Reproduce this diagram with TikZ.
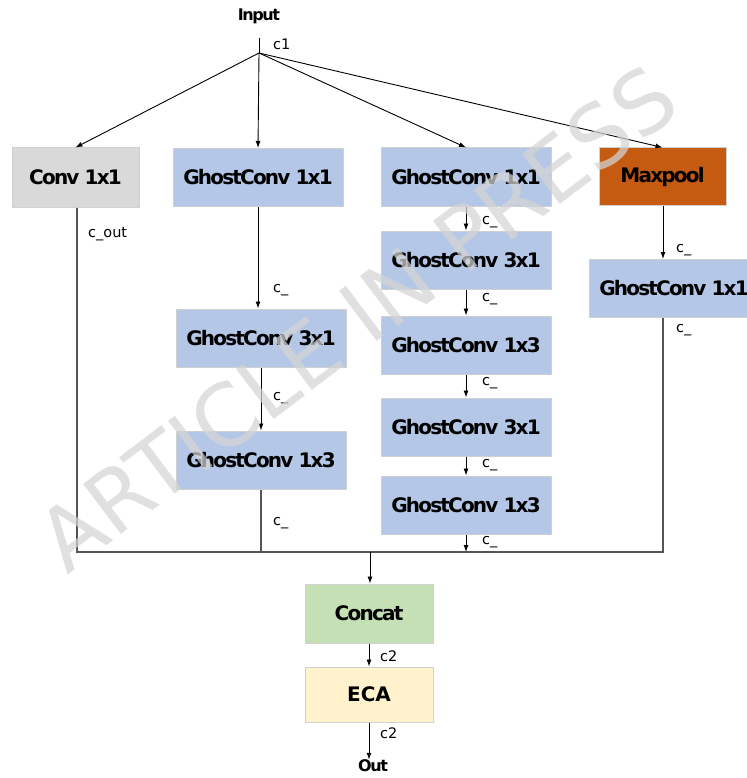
\documentclass[tikz,border=0pt]{standalone}
\usepackage{fontspec}
\setmainfont{DejaVu Sans}
\newfontfamily\boxfont[LetterSpace=-9]{DejaVu Sans}
\newfontfamily\markfont{DejaVu Sans}
\usetikzlibrary{arrows.meta}
\definecolor{convgray}{HTML}{D9D9D9}
\definecolor{ghostblue}{HTML}{B4C7E7}
\definecolor{poolorange}{HTML}{C55A11}
\definecolor{catgreen}{HTML}{C5E0B4}
\definecolor{ecayellow}{HTML}{FFF2CC}
\definecolor{boxedge}{HTML}{D0D0D0}
\definecolor{busgray}{HTML}{555555}
\definecolor{wmgray}{HTML}{D4D4D4}
\tikzset{
  blk/.style={draw=boxedge, line width=1pt, inner sep=0pt,
    font=\boxfont\bfseries\fontsize{20}{22}\selectfont},
  convblk/.style={blk, fill=convgray, minimum width=127pt, minimum height=59pt},
  ghostblk/.style={blk, fill=ghostblue, minimum width=170pt, minimum height=58pt},
  poolblk/.style={blk, fill=poolorange, minimum width=127pt, minimum height=57pt},
  catblk/.style={blk, fill=catgreen, minimum width=128pt, minimum height=59pt},
  ecablk/.style={blk, fill=ecayellow, minimum width=128pt, minimum height=55pt,
    font=\bfseries\fontsize{20}{22}\selectfont},
  endtxt/.style={font=\boxfont\bfseries\fontsize{16}{18}\selectfont, inner sep=0pt},
  lbl/.style={anchor=west, inner sep=0pt, font=\fontsize{14.5}{16}\selectfont},
  arr/.style={-{Latex[length=7pt,width=5pt]}, line width=0.9pt, draw=black},
  wire/.style={line width=0.9pt, draw=black},
  bus/.style={line width=1.3pt, draw=busgray},
}
\begin{document}
\begin{tikzpicture}[x=1pt, y=-1pt]
\useasboundingbox (0,0) rectangle (746,778);

% input and fan-out point
\node[endtxt] (in) at (259,16) {Input};
\coordinate (intop) at (259,38);
\coordinate (fan) at (259,53);

% first row
\node[convblk]  (conv) at (75.5,177.5) {Conv 1x1};
\node[ghostblk] (g1)   at (258,177.5) {GhostConv 1x1};
\node[ghostblk] (h1)   at (466,177)   {GhostConv 1x1};
\node[poolblk]  (mp)   at (662.5,176.5) {Maxpool};

% second branch
\node[ghostblk] (g2) at (261,338) {GhostConv 3x1};
\node[ghostblk] (g3) at (261,460) {GhostConv 1x3};

% third branch
\node[ghostblk] (h2) at (466,260) {GhostConv 3x1};
\node[ghostblk] (h3) at (466,345) {GhostConv 1x3};
\node[ghostblk] (h4) at (466,427) {GhostConv 3x1};
\node[ghostblk] (h5) at (466,505) {GhostConv 1x3};

% pooling branch
\node[ghostblk] (m2) at (674,288.5) {GhostConv 1x1};

% merge
\coordinate (busL) at (77,552);
\coordinate (busR) at (663,552);
\coordinate (busC) at (370,552);
\node[catblk] (cat) at (369,613.5) {Concat};
\node[ecablk] (eca) at (369,694.5) {ECA};
\node[endtxt] (out) at (373,766) {Out};

% fan-out
\draw[wire] (intop) -- (fan);
\draw[arr] (fan) -- (conv.north);
\draw[arr] (fan) -- (g1.north);
\draw[arr] (fan) -- (h1.north);
\draw[arr] (fan) -- (mp.north);

% branch connectors
\draw[arr] (g1.south) -- (g1.south |- g2.north);
\draw[arr] (g2.south) -- (g3.north);
\draw[arr] (h1.south) -- (h2.north);
\draw[arr] (h2.south) -- (h3.north);
\draw[arr] (h3.south) -- (h4.north);
\draw[arr] (h4.south) -- (h5.north);
\draw[arr] (mp.south -| busR) -- (busR |- m2.north);

% collecting bus
\draw[bus] (busL |- conv.south) -- (busL) -- (busR) -- (busR |- m2.south);
\draw[bus] (g3.south) -- (g3.south |- busL);
\draw[arr] (h5.south) -- (h5.south |- busL);
\draw[arr] (busC) -- (busC |- cat.north);
\draw[arr] (cat.south) -- (eca.north);
\draw[arr] (eca.south) -- (eca.south |- out.north);

% channel labels
\node[lbl] (lc1) at (273,44) {c1};
\node[lbl] (lco) at (88,234) {c\_out};
\node[lbl] (lg1) at (273,290) {c\_};
\node[lbl] (lg2) at (273,398) {c\_};
\node[lbl] (lg3) at (273,523) {c\_};
\node[lbl] (lh1) at (482,222) {c\_};
\node[lbl] (lh2) at (482,299) {c\_};
\node[lbl] (lh3) at (482,383) {c\_};
\node[lbl] (lh4) at (482,465) {c\_};
\node[lbl] (lh5) at (482,542) {c\_};
\node[lbl] (lm1) at (676,250) {c\_};
\node[lbl] (lm2) at (676,330) {c\_};
\node[lbl] (lc2) at (380,656) {c2};
\node[lbl] (lc3) at (380,733) {c2};

% watermark
\node[text=wmgray, opacity=0.72, rotate=37, inner sep=0pt,
  font=\markfont\fontsize{86}{90}\selectfont] (wm) at (357,318) {ARTICLE IN PRESS};
\end{tikzpicture}
\end{document}
